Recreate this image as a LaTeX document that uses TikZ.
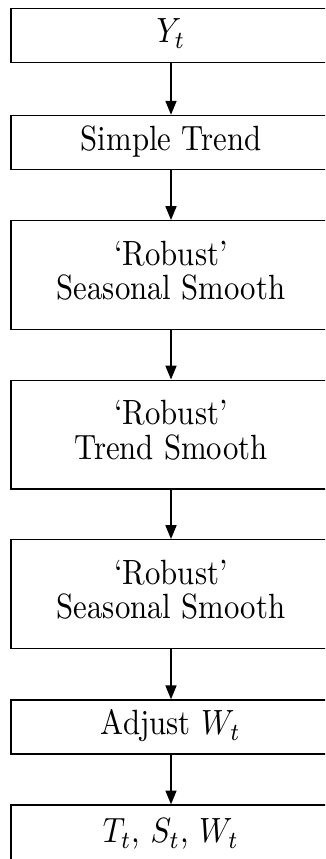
\documentclass[tikz,border=0pt]{standalone}
\usetikzlibrary{arrows.meta}
\usepackage{graphicx}
% Text is drawn slightly taller than wide
\newcommand{\tallx}[1]{\scalebox{1}[1.14]{\begin{tabular}{@{}c@{}}#1\end{tabular}}}
\begin{document}
\begin{tikzpicture}[x=0.325pt,y=-0.325pt,
  stagebox/.style={draw,line width=0.45pt,minimum width=104pt,inner sep=0pt,
    font=\fontsize{10}{9}\selectfont},
  single/.style={stagebox,minimum height=17.6pt},
  double/.style={stagebox,minimum height=35.3pt},
  flow/.style={line width=0.45pt,-{Triangle[width=3.6pt,length=4.5pt]}}]
\useasboundingbox (0,0) rectangle (325,859);
\clip (0,0) rectangle (325,859);
\node[single] (y)   at (171,35.5)  {\tallx{$Y_t$}};
\node[single] (st)  at (171,142.5) {\tallx{Simple Trend}};
\node[double] (rs1) at (171,275)   {\tallx{`Robust'\\Seasonal Smooth}};
\node[double] (rt)  at (171,434.5) {\tallx{`Robust'\\Trend Smooth}};
\node[double] (rs2) at (171,594)   {\tallx{`Robust'\\Seasonal Smooth}};
\node[single] (adj) at (171,727)   {\tallx{Adjust $W_t$}};
\node[single,minimum height=19.8pt] (out) at (171,835.5) {\tallx{$T_t$, $S_t$, $W_t$}};
\draw[flow] (y)   -- (st);
\draw[flow] (st)  -- (rs1);
\draw[flow] (rs1) -- (rt);
\draw[flow] (rt)  -- (rs2);
\draw[flow] (rs2) -- (adj);
\draw[flow] (adj) -- (out);
\end{tikzpicture}
\end{document}
